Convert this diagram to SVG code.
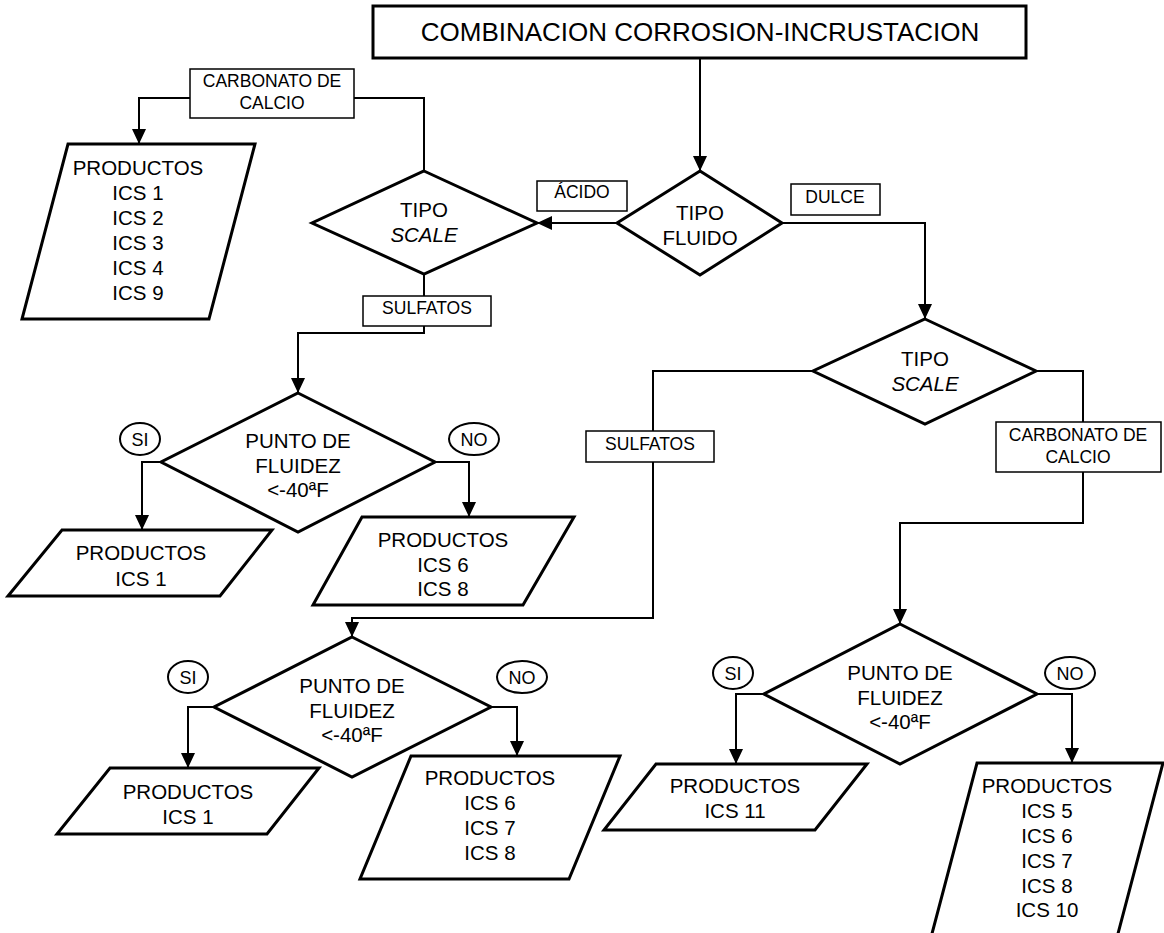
<svg xmlns="http://www.w3.org/2000/svg" width="1164" height="933" viewBox="0 0 1164 933">
  <style>
    .box { fill: #fff; stroke: #000; stroke-width: 3; }
    .lbl { fill: #fff; stroke: #000; stroke-width: 1.5; }
    .oval { fill: #fff; stroke: #000; stroke-width: 2; }
    .wire { fill: none; stroke: #000; stroke-width: 2; }
    .arrow { marker-end: url(#head); }
    text { font-family: "Liberation Sans", Arial, sans-serif; text-anchor: middle; fill: #000; }
    .t { font-size: 20.5px; }
    .title { font-size: 26px; }
    .s { font-size: 17.5px; }
    .o { font-size: 18px; }
    .it { font-style: italic; }
  </style>
  <defs>
    <marker id="head" markerUnits="userSpaceOnUse" markerWidth="16" markerHeight="14" refX="15" refY="7" orient="auto">
      <path d="M0,0 L15,7 L0,14 Z" fill="#000"/>
    </marker>
  </defs>
  <rect width="1164" height="933" fill="#fff"/>

  <!-- connectors -->
  <g id="connectors">
    <path class="wire arrow" d="M700,58 V171"/>
    <path class="wire arrow" d="M617,223 H537"/>
    <path class="wire arrow" d="M782,223 H925 V319"/>
    <path class="wire" d="M424,171 V98 H354"/>
    <path class="wire arrow" d="M190,98 H139 V144"/>
    <path class="wire" d="M424,274 V296"/>
    <path class="wire arrow" d="M424,326 V333 H298 V393"/>
    <path class="wire arrow" d="M161,462 H142 V530"/>
    <path class="wire arrow" d="M435,462 H469 V517"/>
    <path class="wire" d="M813,371 H653 V431"/>
    <path class="wire arrow" d="M653,462 V618 H352 V637"/>
    <path class="wire" d="M1036,371 H1083 V422"/>
    <path class="wire arrow" d="M1083,472 V523 H900 V624"/>
    <path class="wire arrow" d="M214,707 H188 V768"/>
    <path class="wire arrow" d="M491,707 H517 V756"/>
    <path class="wire arrow" d="M764,694 H736 V764"/>
    <path class="wire arrow" d="M1037,694 H1072 V763"/>
  </g>

  <!-- start -->
  <g id="inicio">
    <rect class="box" x="373" y="6" width="653" height="52"/>
    <text class="title" x="700" y="41">COMBINACION CORROSION-INCRUSTACION</text>
  </g>

  <!-- fluid type decision -->
  <g id="tipo-fluido">
    <polygon class="box" points="700,171 782,223 700,275 617,223"/>
    <text class="t" x="700" y="220">TIPO</text>
    <text class="t" x="700" y="245">FLUIDO</text>
  </g>
  <g id="lbl-acido">
    <rect class="lbl" x="537" y="181" width="90" height="30"/>
    <text class="s" x="582" y="198">ÁCIDO</text>
  </g>
  <g id="lbl-dulce">
    <rect class="lbl" x="791" y="184" width="89" height="31"/>
    <text class="s" x="835" y="203">DULCE</text>
  </g>

  <!-- acid branch -->
  <g id="tipo-scale-acido">
    <polygon class="box" points="424,171 537,223 424,274 312,223"/>
    <text class="t" x="424" y="217">TIPO</text>
    <text class="t it" x="424" y="242">SCALE</text>
  </g>
  <g id="lbl-carbonato-acido">
    <rect class="lbl" x="190" y="69" width="164" height="49"/>
    <text class="s" x="272" y="87">CARBONATO DE</text>
    <text class="s" x="272" y="109">CALCIO</text>
  </g>
  <g id="productos-carbonato-acido">
    <polygon class="box" points="68,144 255,144 209,319 22,319"/>
    <text class="t" x="138" y="175">PRODUCTOS</text>
    <text class="t" x="138" y="200">ICS 1</text>
    <text class="t" x="138" y="225">ICS 2</text>
    <text class="t" x="138" y="250">ICS 3</text>
    <text class="t" x="138" y="275">ICS 4</text>
    <text class="t" x="138" y="300">ICS 9</text>
  </g>
  <g id="lbl-sulfatos-acido">
    <rect class="lbl" x="363" y="296" width="128" height="30"/>
    <text class="s" x="427" y="314">SULFATOS</text>
  </g>
  <g id="fluidez-acido">
    <polygon class="box" points="298,393 435,462 298,532 161,462"/>
    <text class="t" x="298" y="448">PUNTO DE</text>
    <text class="t" x="298" y="473">FLUIDEZ</text>
    <text class="t" x="298" y="497">&lt;-40ªF</text>
  </g>
  <g id="si-acido">
    <ellipse class="oval" cx="140" cy="439" rx="20" ry="16"/>
    <text class="o" x="140" y="446">SI</text>
  </g>
  <g id="no-acido">
    <ellipse class="oval" cx="474" cy="439" rx="25" ry="16"/>
    <text class="o" x="474" y="446">NO</text>
  </g>
  <g id="productos-si-acido">
    <polygon class="box" points="62,530 272,530 220,596 8,596"/>
    <text class="t" x="141" y="560">PRODUCTOS</text>
    <text class="t" x="141" y="586">ICS 1</text>
  </g>
  <g id="productos-no-acido">
    <polygon class="box" points="362,517 574,517 523,605 313,605"/>
    <text class="t" x="443" y="547">PRODUCTOS</text>
    <text class="t" x="443" y="572">ICS 6</text>
    <text class="t" x="443" y="596">ICS 8</text>
  </g>

  <!-- sweet branch -->
  <g id="tipo-scale-dulce">
    <polygon class="box" points="925,319 1036,371 925,424 813,371"/>
    <text class="t" x="925" y="366">TIPO</text>
    <text class="t it" x="925" y="391">SCALE</text>
  </g>
  <g id="lbl-sulfatos-dulce">
    <rect class="lbl" x="586" y="431" width="128" height="31"/>
    <text class="s" x="650" y="450">SULFATOS</text>
  </g>
  <g id="lbl-carbonato-dulce">
    <rect class="lbl" x="996" y="422" width="165" height="50"/>
    <text class="s" x="1078" y="441">CARBONATO DE</text>
    <text class="s" x="1078" y="463">CALCIO</text>
  </g>
  <g id="fluidez-sulfatos">
    <polygon class="box" points="352,637 491,707 352,777 214,707"/>
    <text class="t" x="352" y="693">PUNTO DE</text>
    <text class="t" x="352" y="718">FLUIDEZ</text>
    <text class="t" x="352" y="742">&lt;-40ªF</text>
  </g>
  <g id="si-sulfatos">
    <ellipse class="oval" cx="188" cy="677" rx="20" ry="16"/>
    <text class="o" x="188" y="684">SI</text>
  </g>
  <g id="no-sulfatos">
    <ellipse class="oval" cx="522" cy="677" rx="25" ry="16"/>
    <text class="o" x="522" y="684">NO</text>
  </g>
  <g id="productos-si-sulfatos">
    <polygon class="box" points="110,768 319,768 267,834 57,834"/>
    <text class="t" x="188" y="799">PRODUCTOS</text>
    <text class="t" x="188" y="824">ICS 1</text>
  </g>
  <g id="productos-no-sulfatos">
    <polygon class="box" points="411,756 620,756 569,879 360,879"/>
    <text class="t" x="490" y="785">PRODUCTOS</text>
    <text class="t" x="490" y="810">ICS 6</text>
    <text class="t" x="490" y="835">ICS 7</text>
    <text class="t" x="490" y="860">ICS 8</text>
  </g>
  <g id="fluidez-carbonato">
    <polygon class="box" points="900,624 1037,694 900,764 764,694"/>
    <text class="t" x="900" y="680">PUNTO DE</text>
    <text class="t" x="900" y="705">FLUIDEZ</text>
    <text class="t" x="900" y="729">&lt;-40ªF</text>
  </g>
  <g id="si-carbonato">
    <ellipse class="oval" cx="733" cy="673" rx="20" ry="16"/>
    <text class="o" x="733" y="680">SI</text>
  </g>
  <g id="no-carbonato">
    <ellipse class="oval" cx="1070" cy="673" rx="25" ry="16"/>
    <text class="o" x="1070" y="680">NO</text>
  </g>
  <g id="productos-si-carbonato">
    <polygon class="box" points="656,764 867,764 815,830 604,830"/>
    <text class="t" x="735" y="793">PRODUCTOS</text>
    <text class="t" x="735" y="818">ICS 11</text>
  </g>
  <g id="productos-no-carbonato">
    <polygon class="box" points="977,763 1163,763 1115,945 929,945"/>
    <text class="t" x="1047" y="793">PRODUCTOS</text>
    <text class="t" x="1047" y="818">ICS 5</text>
    <text class="t" x="1047" y="843">ICS 6</text>
    <text class="t" x="1047" y="868">ICS 7</text>
    <text class="t" x="1047" y="893">ICS 8</text>
    <text class="t" x="1047" y="917">ICS 10</text>
  </g>
</svg>
